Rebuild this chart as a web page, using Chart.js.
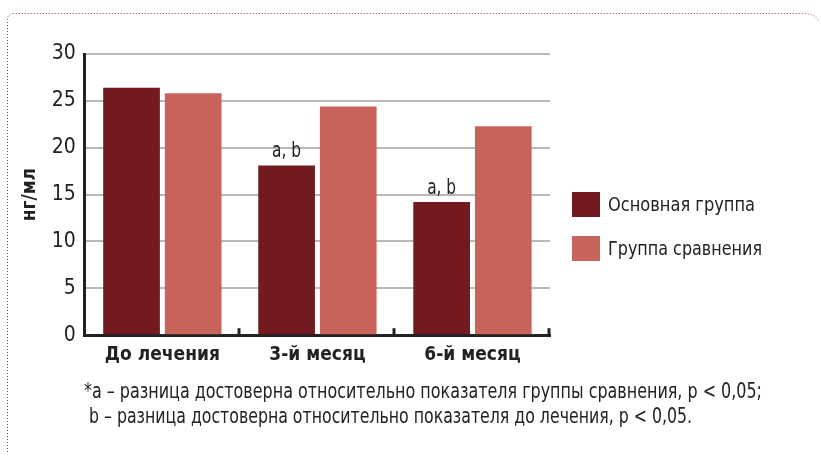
<!DOCTYPE html>
<html>
<head>
<meta charset="utf-8">
<script src="https://cdn.jsdelivr.net/npm/chart.js@4"></script>
<style>
  html, body { margin: 0; padding: 0; background: #fff; }
  #wrap { position: relative; width: 821px; height: 458px; }
</style>
</head>
<body>
<div id="wrap"><canvas id="chart" width="821" height="458"></canvas></div>
<script>
const Categories = ["До лечения", "3-й месяц", "6-й месяц"];
const MainGroup = [26.4, 18.1, 14.2];
const ComparisonGroup = [25.8, 24.4, 22.3];
const MainNotes = ["", "a, b", "a, b"];
const SeriesNames = ["Основная группа", "Группа сравнения"];
const YTicks = [0, 5, 10, 15, 20, 25, 30];
const Footnotes = [
  "*a – разница достоверна относительно показателя группы сравнения, p < 0,05;",
  " b – разница достоверна относительно показателя до лечения, p < 0,05."
];

const FontFamily = "'Liberation Sans Narrow', 'DejaVu Sans Condensed', 'Arial Narrow', sans-serif";
const DarkRed = "#731a21";
const LightRed = "#c8635b";

// extras: border, notes over bars, small ticks, legend, footnote
const Extras = {
  id: "extras",
  afterDatasetsDraw(chart) {
    const ctx = chart.ctx;
    const x = chart.scales.x;
    const area = chart.chartArea;
    ctx.save();

    // small upward ticks between categories
    const step = x.getPixelForTick(1) - x.getPixelForTick(0);
    ctx.strokeStyle = "#222";
    ctx.lineWidth = 3;
    for (let i = 0; i < Categories.length; i++) {
      const px = Math.round(x.getPixelForTick(i) + step / 2);
      ctx.beginPath();
      ctx.moveTo(px - 1, area.bottom);
      ctx.lineTo(px - 1, area.bottom - 7);
      ctx.stroke();
    }

    // notes above main group bars
    ctx.fillStyle = "#222";
    ctx.font = "22px " + FontFamily;
    ctx.textAlign = "center";
    ctx.textBaseline = "bottom";
    chart.getDatasetMeta(0).data.forEach((bar, i) => {
      if (MainNotes[i]) ctx.fillText(MainNotes[i], bar.x, bar.y - 3, 29);
    });

    // legend
    const colors = [DarkRed, LightRed];
    const widths = [147, 154];
    ctx.textAlign = "left";
    ctx.textBaseline = "middle";
    ctx.font = "20px " + FontFamily;
    SeriesNames.forEach((name, i) => {
      const top = 192 + i * 44;
      ctx.fillStyle = colors[i];
      ctx.fillRect(572, top, 28, 25);
      ctx.fillStyle = "#222";
      ctx.fillText(name, 608, top + 14, widths[i]);
    });

    // footnote
    const footWidths = [678, 608];
    ctx.font = "21px " + FontFamily;
    ctx.textBaseline = "middle";
    Footnotes.forEach((line, i) => {
      ctx.fillText(line, 84, 393 + i * 25, footWidths[i]);
    });

    // dotted frame
    ctx.strokeStyle = "#a8323f";
    ctx.lineWidth = 1;
    ctx.setLineDash([1, 2]);
    ctx.beginPath();
    ctx.moveTo(7.5, 452);
    ctx.lineTo(7.5, 20);
    ctx.quadraticCurveTo(7.5, 13.5, 14, 13.5);
    ctx.lineTo(805, 13.5);
    ctx.quadraticCurveTo(815, 13.5, 819, 22);
    ctx.stroke();
    ctx.restore();
  }
};

const Config = {
  type: "bar",
  data: {
    labels: Categories,
    datasets: [
      { label: SeriesNames[0], data: MainGroup, backgroundColor: DarkRed },
      { label: SeriesNames[1], data: ComparisonGroup, backgroundColor: LightRed }
    ]
  },
  options: {
    responsive: false,
    animation: false,
    devicePixelRatio: 1,
    layout: { padding: { top: 54, right: 271, bottom: 92, left: 10 } },
    datasets: { bar: { categoryPercentage: 0.795, barPercentage: 0.92 } },
    plugins: {
      legend: { display: false },
      tooltip: { enabled: false }
    },
    scales: {
      x: {
        grid: { display: false },
        border: { color: "#222", width: 3 },
        ticks: { color: "#222", font: { family: FontFamily, size: 19, weight: "bold" }, padding: 0 }
      },
      y: {
        min: 0,
        max: 30,
        afterBuildTicks: axis => { axis.ticks = YTicks.map(v => ({ value: v })); },
        grid: { color: "#b8b8b8", lineWidth: 2, drawTicks: false },
        border: { color: "#222", width: 3 },
        ticks: { color: "#222", font: { family: FontFamily, size: 21 }, padding: 9 },
        title: { display: true, text: "нг/мл", color: "#222", font: { family: FontFamily, size: 19, weight: "bold" }, padding: { top: 9, bottom: 1 } }
      }
    }
  },
  plugins: [Extras]
};

new Chart(document.getElementById("chart"), Config);
</script>
</body>
</html>
